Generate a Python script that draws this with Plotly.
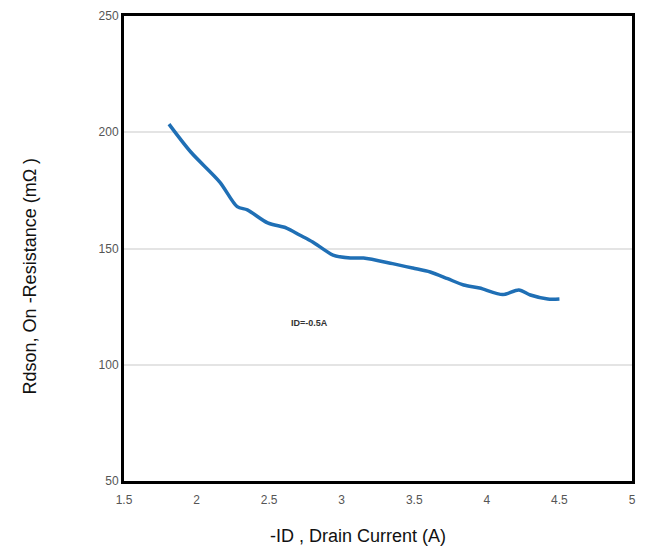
import plotly.graph_objects as go

current_a = [1.81, 1.96, 2.16, 2.28, 2.35, 2.49, 2.62, 2.71, 2.80, 2.94, 3.06, 3.15, 3.35, 3.49, 3.61, 3.73, 3.84, 3.95, 4.11, 4.22, 4.30, 4.42, 4.50]
rdson_mohm = [203.5, 191.5, 178.6, 168.0, 166.6, 161.0, 158.8, 155.8, 152.8, 147.2, 145.9, 145.9, 143.5, 141.6, 139.9, 137.0, 134.3, 133.0, 130.2, 132.2, 130.0, 128.3, 128.3]
x_ticks = [1.5, 2, 2.5, 3, 3.5, 4, 4.5, 5]
y_ticks = [50, 100, 150, 200, 250]

fig = go.Figure()
fig.add_trace(go.Scatter(
    x=current_a, y=rdson_mohm, mode="lines",
    line=dict(color="#1f6fb5", width=3.5, shape="spline", smoothing=0.8),
    showlegend=False, hoverinfo="skip"))

fig.add_annotation(x=2.78, y=118, text="<b>ID=-0.5A</b>", showarrow=False,
                   font=dict(family="Arial", size=9, color="#333333"))

# axis titles placed as annotations to match the reference's off-centre positions
fig.add_annotation(xref="paper", yref="paper", x=0.46, y=-0.118, yanchor="middle",
                   text="-ID , Drain Current (A)", showarrow=False,
                   font=dict(family="Arial", size=18, color="#111111"))
fig.add_annotation(xref="paper", yref="paper", x=-0.185, xanchor="center",
                   y=0.44, yanchor="middle", textangle=-90,
                   text="Rdson, On -Resistance (mΩ )", showarrow=False,
                   font=dict(family="Arial", size=18, color="#111111"))

fig.update_layout(
    width=648, height=548,
    margin=dict(l=124, r=16, t=16, b=67),
    paper_bgcolor="white", plot_bgcolor="white",
    font=dict(family="Arial", color="#000000"),
    xaxis=dict(range=[1.5, 5], tickvals=x_ticks, ticktext=[str(v) for v in x_ticks],
               showgrid=False, zeroline=False, showline=True, linecolor="black",
               linewidth=3, mirror=True, ticks="", ticklen=0, ticklabelstandoff=6,
               automargin=False,
               tickfont=dict(family="Arial", size=12, color="#555555")),
    yaxis=dict(range=[50, 250], tickvals=y_ticks, ticktext=[str(v) for v in y_ticks],
               showgrid=True, gridcolor="#e4e4e4", gridwidth=1.5, zeroline=False,
               showline=True, linecolor="black", linewidth=3, mirror=True, ticks="",
               automargin=False,
               tickfont=dict(family="Arial", size=12, color="#555555")),
)

fig.write_html("out.html")
